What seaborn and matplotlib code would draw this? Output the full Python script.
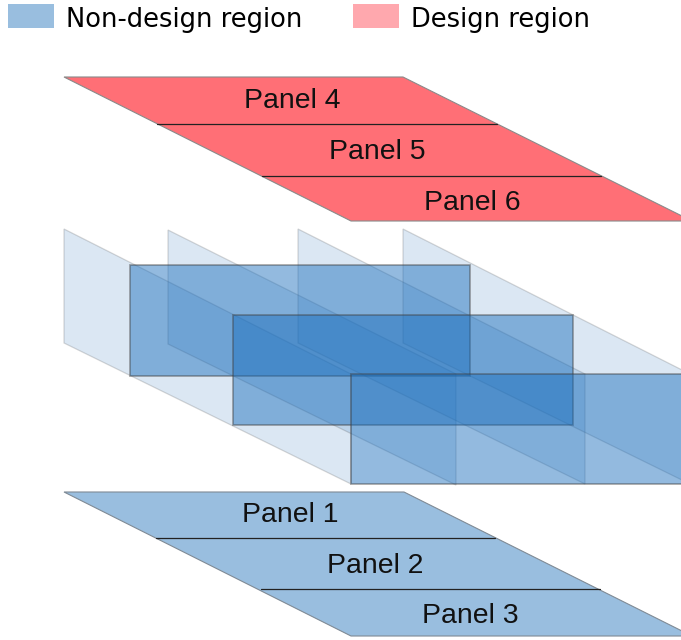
import matplotlib
matplotlib.use("Agg")
import matplotlib.pyplot as plt
from matplotlib.patches import Patch
import seaborn as sns
import pandas as pd

legend_labels = ["Non-design region", "Design region"]
legend_colors = ["#99BEDF", "#FFA8AE"]

# pixel positions (y goes down)
design_x = [64, 403, 692, 351]
design_y = [77, 77, 221, 221]
nondesign_x = [64, 404, 692, 351]
nondesign_y = [492, 492, 636, 636]

design_labels = ["Panel 4", "Panel 5", "Panel 6"]
design_label_x = [292, 377, 472]
design_label_y = [101, 152, 203]
nondesign_labels = ["Panel 1", "Panel 2", "Panel 3"]
nondesign_label_x = [290, 375, 470]
nondesign_label_y = [515, 566, 616]

design_split_x0 = [157, 262]
design_split_x1 = [497, 601]
design_split_y = [124, 176]
nondesign_split_x0 = [156, 261]
nondesign_split_x1 = [495, 600]
nondesign_split_y = [538, 589]

# slanted sheets between the two layers
sheet_left = [64, 168, 298, 403]
sheet_top = [229, 230, 229, 229]
sheet_bottom = [343, 344, 343, 343]
sheet_right = [351, 456, 585, 690]
sheet_right_top = [374, 374, 374, 374]
sheet_right_bottom = [484, 485, 484, 484]

# flat rectangles
rect_left = [130, 233, 351]
rect_right = [470, 573, 690]
rect_top = [265, 315, 374]
rect_bottom = [376, 425, 484]

sns.set_theme(style="white")
plt.rcParams['font.family'] = ['Liberation Sans', 'DejaVu Sans']

fig, ax = plt.subplots(figsize=(6.81, 6.40), dpi=100)
ax.set_position([0, 0, 1, 1])
ax.set_xlim(0, 681)
ax.set_ylim(640, 0)
ax.axis("off")

# layers
ax.fill(design_x, design_y, facecolor="#FF6F76", edgecolor="#8A8A8A", lw=0.8, zorder=2)
ax.fill(nondesign_x, nondesign_y, facecolor="#99BEDF", edgecolor="#7F8A95", lw=0.8, zorder=2)

for i in range(len(sheet_left)):
    xs = [sheet_left[i], sheet_right[i], sheet_right[i], sheet_left[i]]
    ys = [sheet_top[i], sheet_right_top[i], sheet_right_bottom[i], sheet_bottom[i]]
    ax.fill(xs, ys, facecolor=(0.12, 0.42, 0.71, 0.16), edgecolor=(0.3, 0.3, 0.3, 0.22), lw=0.9, zorder=3)

for i in range(len(rect_left)):
    xs = [rect_left[i], rect_right[i], rect_right[i], rect_left[i]]
    ys = [rect_top[i], rect_top[i], rect_bottom[i], rect_bottom[i]]
    ax.fill(xs, ys, facecolor=(0.10, 0.43, 0.74, 0.47), edgecolor=(0.25, 0.25, 0.25, 0.45), lw=1.3, zorder=4)

# separators between panels
splits = pd.DataFrame({
    "x": design_split_x0 + design_split_x1 + nondesign_split_x0 + nondesign_split_x1,
    "y": design_split_y * 2 + nondesign_split_y * 2,
    "line": [0, 1, 0, 1, 2, 3, 2, 3],
})
sns.lineplot(data=splits, x="x", y="y", units="line", estimator=None, sort=False,
             color="#222222", lw=0.9, ax=ax, zorder=5)
ax.set_xlim(0, 681)
ax.set_ylim(640, 0)

for lab, x, y in zip(design_labels + nondesign_labels,
                     design_label_x + nondesign_label_x,
                     design_label_y + nondesign_label_y):
    ax.text(x, y, lab, ha="center", va="center", fontsize=20.4, color="#111111", zorder=6)

handles = [Patch(facecolor=c, edgecolor="none") for c in legend_colors]
leg = ax.legend(handles, legend_labels, ncol=2, loc="upper left",
                bbox_to_anchor=(8, 4), bbox_transform=ax.transData,
                frameon=False, borderpad=0, borderaxespad=0,
                prop={"family": "DejaVu Sans", "size": 18.5},
                handlelength=1.79, handleheight=1.09, handletextpad=0.47,
                columnspacing=1.98, labelspacing=0)
for t in leg.get_texts():
    t.set_color("black")
    t.set_y(-2)

fig.savefig("out.png", dpi=100)
